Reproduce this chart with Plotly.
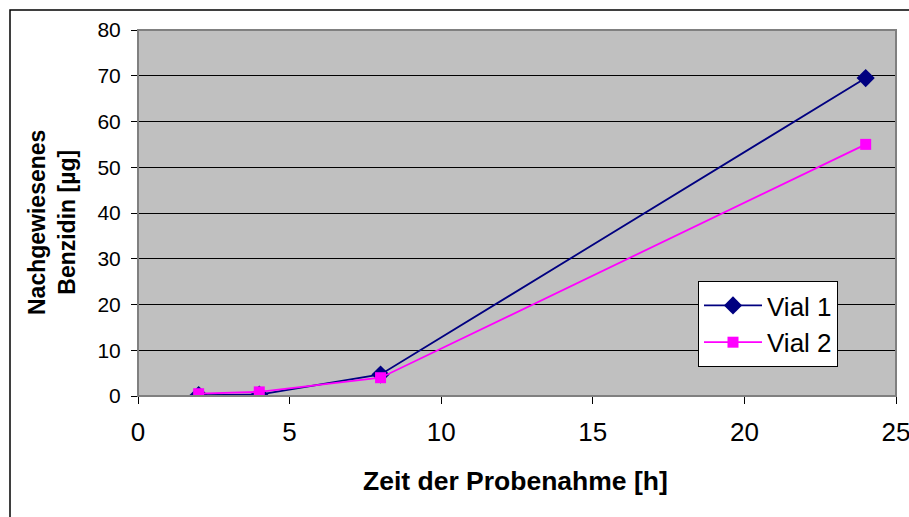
import plotly.graph_objects as go

# Data
zeit = [2, 4, 8, 24]
vial1 = [0.2, 0.3, 4.7, 69.5]
vial2 = [0.5, 0.9, 4.0, 55.0]
x_ticks = [0, 5, 10, 15, 20, 25]
y_ticks = [0, 10, 20, 30, 40, 50, 60, 70, 80]

W, H = 909, 517
L, R, T, B = 138, 896, 30, 396
pw, ph = R - L, B - T

def px(xpix):
    return (xpix - L) / pw

def py(ypix):
    return (B - ypix) / ph

FONT = "Liberation Sans, Arial, sans-serif"

fig = go.Figure()
fig.add_trace(go.Scatter(
    x=zeit, y=vial1, name="Vial 1", mode="lines+markers",
    line=dict(color="#000080", width=1.8),
    marker=dict(symbol="diamond", size=14, color="#000080"),
    legendgroup="g1",
))
fig.add_trace(go.Scatter(
    x=zeit, y=vial2, name="Vial 2", mode="lines+markers",
    line=dict(color="#FF00FF", width=1.8),
    marker=dict(symbol="square", size=11, color="#FF00FF"),
    legendgroup="g2",
))

fig.update_layout(
    width=W, height=H,
    margin=dict(l=L, r=W - R, t=T, b=H - B, pad=0, autoexpand=False),
    paper_bgcolor="white",
    plot_bgcolor="#C0C0C0",
    font=dict(family=FONT, color="black"),
    showlegend=True,
    legend=dict(
        x=px(698), y=py(281), xanchor="left", yanchor="top",
        bgcolor="white", bordercolor="black", borderwidth=1,
        font=dict(size=26, family=FONT, color="black"),
        tracegroupgap=0,
        itemwidth=58,
    ),
    xaxis=dict(
        range=[0, 25], tickvals=x_ticks, ticktext=[str(v) for v in x_ticks],
        showgrid=False, zeroline=False,
        showline=True, linecolor="black", linewidth=1,
        ticks="outside", ticklen=7, tickcolor="black",
        tickfont=dict(size=26, family=FONT),
        ticklabelstandoff=6,
        ticklabeloverflow="allow",
        automargin=False,
        fixedrange=True,
    ),
    yaxis=dict(
        range=[0, 80], tickvals=y_ticks, ticktext=[str(v) for v in y_ticks],
        showgrid=True, gridcolor="black", gridwidth=1,
        zeroline=False,
        showline=True, linecolor="black", linewidth=1,
        ticks="outside", ticklen=6, tickcolor="black",
        tickfont=dict(size=21, family=FONT),
        ticklabelstandoff=6,
        automargin=False,
        fixedrange=True,
    ),
    shapes=[
        # plot area border (gray)
        dict(type="rect", xref="paper", yref="paper", x0=0, x1=1, y0=0, y1=1,
             line=dict(color="#808080", width=2), layer="above"),
        # outer chart border
        dict(type="rect", xref="paper", yref="paper",
             x0=px(10), x1=px(930), y0=py(540), y1=py(10),
             line=dict(color="black", width=1.5), layer="above"),
    ],
    annotations=[
        dict(text="<b>Zeit der Probenahme [h]</b>", xref="paper", yref="paper",
             x=px(515), y=py(481), xanchor="center", yanchor="middle",
             showarrow=False, font=dict(size=26.5, family=FONT, color="black")),
        dict(text="<b>Nachgewiesenes</b><br><b>Benzidin [µg]</b>",
             xref="paper", yref="paper",
             x=px(52), y=py(223), xanchor="center", yanchor="middle",
             textangle=-90, showarrow=False,
             font=dict(size=23, family=FONT, color="black")),
    ],
)

fig.write_html(
    "out.html",
    config={"displayModeBar": False, "staticPlot": True},
    post_script="document.body.style.margin='0';document.body.style.overflow='hidden';",
)
